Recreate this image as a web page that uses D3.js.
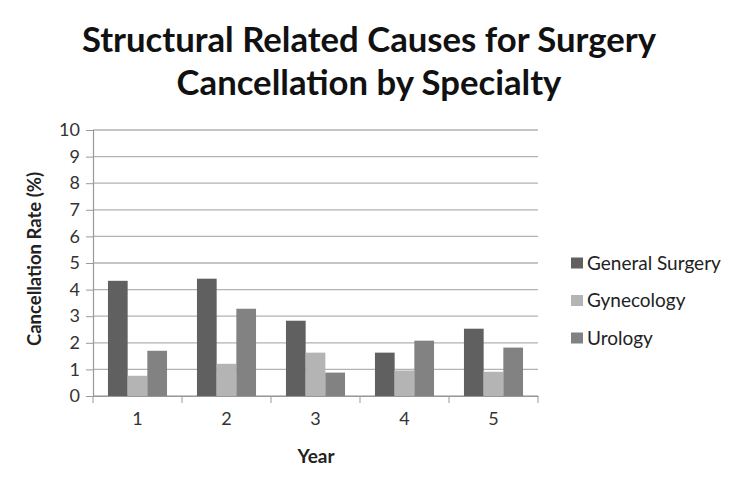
<!DOCTYPE html>
<html><head><meta charset="utf-8">
<script src="https://cdn.jsdelivr.net/npm/d3@7"></script>
<style>body{margin:0;background:#fff}svg{display:block}</style>
</head><body><svg id="c" width="735" height="484"></svg>
<script>
const years = ["1","2","3","4","5"];
const seriesNames = ["General Surgery","Gynecology","Urology"];
const generalSurgery = [4.33,4.41,2.83,1.63,2.53];
const gynecology = [0.76,1.21,1.63,0.96,0.91];
const urology = [1.70,3.28,0.88,2.08,1.82];
const yTicks = [0,1,2,3,4,5,6,7,8,9,10];
const colors = ["#606060","#b4b4b4","#828282"];

const values = [generalSurgery, gynecology, urology];
const svg = d3.select("#c");
const font = "Lato, 'Open Sans', sans-serif";
const m = {l:93, r:538, t:130, b:396};
const x = d3.scaleBand().domain(years).range([m.l, m.r]);
const inner = d3.scaleBand().domain(seriesNames).range([0, x.bandwidth()]).paddingOuter(0.76).paddingInner(0);
const y = d3.scaleLinear().domain([0,10]).range([m.b, m.t]);

// gridlines
svg.append("g").selectAll("line").data(yTicks).join("line")
  .attr("x1", m.l).attr("x2", m.r).attr("y1", d=>y(d)).attr("y2", d=>y(d))
  .attr("stroke", "#b2b2b2").attr("stroke-width", 1.3);

// y axis
const ya = svg.append("g").attr("transform", `translate(${m.l},0)`)
  .call(d3.axisLeft(y).tickValues(yTicks).tickSize(7).tickPadding(6));
ya.select(".domain").attr("stroke", "#999").attr("stroke-width",1.2);
ya.selectAll(".tick line").attr("stroke", "#999");
ya.selectAll("text").attr("font-family", font).attr("font-size", 18).attr("fill", "#333");

// bars
seriesNames.forEach((s, i) => {
  svg.append("g").selectAll("rect").data(years).join("rect")
    .attr("x", d => x(d) + inner(s))
    .attr("width", inner.bandwidth())
    .attr("y", (d, j) => y(values[i][j]))
    .attr("height", (d, j) => y(0) - y(values[i][j]))
    .attr("fill", colors[i]);
});

// x axis
const xa = svg.append("g").attr("transform", `translate(0,${m.b})`)
  .call(d3.axisBottom(x).tickSize(0).tickPadding(16));
xa.select(".domain").attr("stroke", "#999").attr("stroke-width",1.2);
xa.selectAll("text").attr("font-family", font).attr("font-size", 18).attr("fill", "#333");
svg.append("g").selectAll("line").data(d3.range(years.length + 1)).join("line")
  .attr("x1", d => m.l + d * x.step()).attr("x2", d => m.l + d * x.step())
  .attr("y1", m.b).attr("y2", m.b + 7).attr("stroke", "#999");

// titles
const title = svg.append("text").attr("text-anchor","middle").attr("font-family", font)
  .attr("font-weight","bold").attr("font-size", 34.7).attr("fill","#111");
title.append("tspan").attr("x", 369).attr("y", 52).text("Structural Related Causes for Surgery");
title.append("tspan").attr("x", 369).attr("y", 95).text("Cancellation by Specialty");

svg.append("text").attr("transform","translate(41,259) rotate(-90)").attr("text-anchor","middle")
  .attr("font-family", font).attr("font-weight","bold").attr("font-size",18.5).attr("fill","#222")
  .text("Cancellation Rate (%)");
svg.append("text").attr("x",316).attr("y",463).attr("text-anchor","middle")
  .attr("font-family", font).attr("font-weight","bold").attr("font-size",19).attr("fill","#222")
  .text("Year");

// legend
const lg = svg.append("g").selectAll("g").data(seriesNames).join("g")
  .attr("transform", (d,i) => `translate(571,${263 + i*37.5})`);
lg.append("rect").attr("x",0).attr("y",-5.5).attr("width",12).attr("height",11).attr("fill",(d,i)=>colors[i]);
lg.append("text").attr("x",16).attr("y",0).attr("dy","0.35em").attr("font-family",font)
  .attr("font-size",19).attr("fill","#222").text(d=>d);
</script></body></html>
